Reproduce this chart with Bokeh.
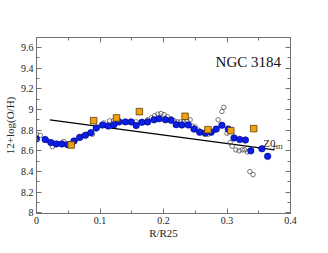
from bokeh.plotting import figure
from bokeh.models import LinearAxis, FixedTicker, Label, Range1d
from bokeh.embed import file_html
from bokeh.resources import INLINE

# Blue filled circles
blue_x = [0.000, 0.0136, 0.0226, 0.031, 0.040, 0.049, 0.059, 0.068, 0.077, 0.0856,
          0.094, 0.104, 0.113, 0.122, 0.130, 0.140, 0.149, 0.157, 0.166, 0.175,
          0.185, 0.193, 0.203, 0.212, 0.220, 0.229, 0.239, 0.248, 0.257, 0.266,
          0.275, 0.283, 0.292, 0.302, 0.311, 0.320, 0.329, 0.3375, 0.355, 0.364]
blue_y = [8.715, 8.71, 8.68, 8.667, 8.667, 8.66, 8.695, 8.73, 8.75, 8.776,
          8.82, 8.85, 8.84, 8.853, 8.88, 8.88, 8.88, 8.845, 8.876, 8.88,
          8.90, 8.91, 8.90, 8.895, 8.853, 8.85, 8.85, 8.81, 8.78, 8.773,
          8.78, 8.81, 8.847, 8.81, 8.725, 8.71, 8.705, 8.60, 8.62, 8.547]

# Open circles
open_x = [0.000, 0.006, 0.017, 0.025, 0.034, 0.043, 0.052, 0.061, 0.070, 0.079,
          0.088, 0.097, 0.106, 0.115, 0.121, 0.130, 0.139, 0.148, 0.157, 0.166,
          0.175, 0.181, 0.186, 0.191, 0.196, 0.201, 0.206, 0.212, 0.217, 0.222,
          0.227, 0.232, 0.237, 0.242, 0.245, 0.250, 0.255, 0.260, 0.265, 0.270,
          0.276, 0.281, 0.286, 0.292, 0.295, 0.300, 0.305, 0.308, 0.314, 0.319,
          0.324, 0.328, 0.332, 0.336, 0.341]
open_y = [8.76, 8.75, 8.70, 8.64, 8.67, 8.69, 8.67, 8.70, 8.74, 8.76,
          8.76, 8.83, 8.87, 8.89, 8.89, 8.88, 8.88, 8.88, 8.88, 8.88,
          8.90, 8.92, 8.94, 8.955, 8.96, 8.95, 8.93, 8.91, 8.89, 8.88,
          8.88, 8.88, 8.89, 8.90, 8.84, 8.83, 8.80, 8.78, 8.76, 8.76,
          8.78, 8.80, 8.90, 8.98, 9.02, 8.77, 8.68, 8.645, 8.61, 8.60,
          8.61, 8.61, 8.59, 8.40, 8.37]

# Orange squares
sq_x = [0.0546, 0.090, 0.126, 0.162, 0.234, 0.270, 0.306, 0.342]
sq_y = [8.657, 8.892, 8.918, 8.979, 8.934, 8.805, 8.795, 8.815]

# Z0_HII gradient line
zo_x = [0.021, 0.375]
zo_y = [8.90, 8.61]

x_ticks = [0.0, 0.1, 0.2, 0.3, 0.4]
x_labels = ["0", "0.1", "0.2", "0.3", "0.4"]
x_minor = [0.05, 0.15, 0.25, 0.35]
y_ticks = [8.0, 8.2, 8.4, 8.6, 8.8, 9.0, 9.2, 9.4, 9.6]
y_labels = ["8", "8.2", "8.4", "8.6", "8.8", "9", "9.2", "9.4", "9.6"]
y_minor = [8.1, 8.3, 8.5, 8.7, 8.9, 9.1, 9.3, 9.5]

FONT = "Liberation Serif"
AX = "#707070"

p = figure(frame_width=254, frame_height=176, output_backend="svg",
           toolbar_location=None, x_range=Range1d(0, 0.4), y_range=Range1d(7.995, 9.695),
           min_border_left=30, min_border_right=20, min_border_top=37, min_border_bottom=24,
           x_axis_label="R/R25", y_axis_label="12+log(O/H)")
p.title.visible = False
p.grid.visible = False
p.outline_line_color = AX
p.background_fill_color = "white"
p.border_fill_color = "white"

xt = FixedTicker(ticks=x_ticks, minor_ticks=x_minor)
yt = FixedTicker(ticks=y_ticks, minor_ticks=y_minor)

def style(ax):
    ax.axis_line_color = AX
    ax.major_tick_line_color = AX
    ax.minor_tick_line_color = AX
    ax.major_tick_in = 5
    ax.major_tick_out = 0
    ax.minor_tick_in = 3
    ax.minor_tick_out = 0
    ax.major_label_text_font = FONT
    ax.major_label_text_font_size = "10px"
    ax.major_label_text_color = "#222222"
    ax.major_label_standoff = 3
    ax.axis_label_text_font = FONT
    ax.axis_label_text_font_size = "11px"
    ax.axis_label_text_font_style = "normal"
    ax.axis_label_text_color = "#222222"
    ax.axis_label_standoff = 2

p.xaxis[0].ticker = xt
p.xaxis[0].major_label_overrides = {t: l for t, l in zip(x_ticks, x_labels)}
p.yaxis[0].ticker = yt
p.yaxis[0].major_label_overrides = {t: l for t, l in zip(y_ticks, y_labels)}
style(p.xaxis[0])
style(p.yaxis[0])
p.xaxis[0].axis_label_standoff = 0
p.xaxis[0].major_label_standoff = 3

top = LinearAxis(ticker=xt)
right = LinearAxis(ticker=yt)
style(top)
style(right)
top.major_label_overrides = {t: "" for t in x_ticks}
right.major_label_overrides = {t: "" for t in y_ticks}
top.major_label_standoff = 0
right.major_label_standoff = 0
p.add_layout(top, "above")
p.add_layout(right, "right")

p.line(zo_x, zo_y, line_color="black", line_width=1.2)
p.scatter(open_x, open_y, marker="circle", size=4.5, fill_color=None,
          line_color="#555555", line_width=0.8)
p.scatter(blue_x, blue_y, marker="circle", size=6.5, fill_color="#0a1ee6",
          line_color="#000080", line_width=0.6)
p.scatter(sq_x, sq_y, marker="square", size=6.5, fill_color="#f0a010",
          line_color="#5a4000", line_width=0.8)

p.add_layout(Label(x=0.282, y=9.455, text="NGC 3184", text_font=FONT,
                   text_font_size="15px", text_color="#111111",
                   text_baseline="alphabetic"))
p.add_layout(Label(x=0.357, y=8.675, text="Z0", text_font=FONT,
                   text_font_size="11px", text_color="#222222",
                   text_baseline="alphabetic"))
p.add_layout(Label(x=0.3725, y=8.642, text="HII", text_font=FONT,
                   text_font_size="7px", text_color="#222222",
                   text_baseline="alphabetic"))

open("out.html", "w").write(file_html(p, INLINE))
